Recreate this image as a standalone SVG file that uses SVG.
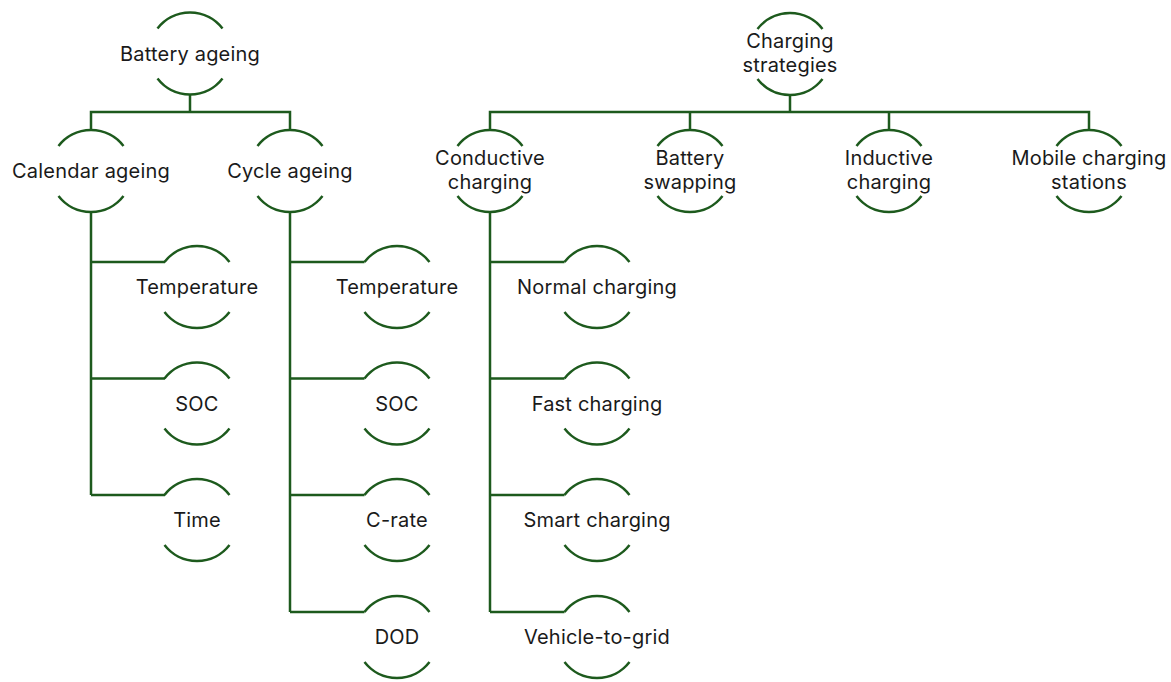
<svg xmlns="http://www.w3.org/2000/svg" width="1171" height="682" viewBox="0 0 1171 682">
<style>
.arc{fill:none;stroke:#1d5a1d;stroke-width:2.5}
.con{fill:none;stroke:#1d5a1d;stroke-width:2.5;stroke-linejoin:miter}
.t{font-family:Inter,"Liberation Sans",sans-serif;font-size:20px;letter-spacing:0.2px;fill:#1a1a1a;text-anchor:middle}
</style>
<defs>
<path id="nd" class="arc" d="M-32.5,-25 A41,41 0 0 1 32.5,-25 M-32.5,25 A41,41 0 0 0 32.5,25"/>
</defs>
<rect width="1171" height="682" fill="#ffffff"/>
<g id="connectors" class="con">
<path d="M190,94.5 V112 M91,130 V112 H290 V130"/>
<path d="M91,212 V495 M91,262 H165 M91,378.5 H165 M91,495 H165"/>
<path d="M290,212 V612 M290,262 H364.5 M290,378.5 H364.5 M290,495 H364.5 M290,612 H364.5"/>
<path d="M790,95 V112 M490,130 V112 H1089 V130 M690,112 V130 M889,112 V130"/>
<path d="M490,212 V612 M490,262 H564.5 M490,378.5 H564.5 M490,495 H564.5 M490,612 H564.5"/>
</g>
<g id="battery-ageing" transform="translate(190,53.5)"><use href="#nd"/><text class="t" y="7">Battery ageing</text></g>
<g id="calendar-ageing" transform="translate(91,171)"><use href="#nd"/><text class="t" y="7">Calendar ageing</text></g>
<g id="cycle-ageing" transform="translate(290,171)"><use href="#nd"/><text class="t" y="7">Cycle ageing</text></g>
<g id="cal-temperature" transform="translate(197,287)"><use href="#nd"/><text class="t" y="7">Temperature</text></g>
<g id="cal-soc" transform="translate(197,403.5)"><use href="#nd"/><text class="t" y="7">SOC</text></g>
<g id="cal-time" transform="translate(197,520)"><use href="#nd"/><text class="t" y="7">Time</text></g>
<g id="cyc-temperature" transform="translate(397,287)"><use href="#nd"/><text class="t" y="7">Temperature</text></g>
<g id="cyc-soc" transform="translate(397,403.5)"><use href="#nd"/><text class="t" y="7">SOC</text></g>
<g id="cyc-crate" transform="translate(397,520)"><use href="#nd"/><text class="t" y="7">C-rate</text></g>
<g id="cyc-dod" transform="translate(397,637)"><use href="#nd"/><text class="t" y="7">DOD</text></g>
<g id="charging-strategies" transform="translate(790,54)"><use href="#nd"/><text class="t" y="-6.5">Charging</text><text class="t" y="18">strategies</text></g>
<g id="conductive-charging" transform="translate(490,171)"><use href="#nd"/><text class="t" y="-6.5">Conductive</text><text class="t" y="18">charging</text></g>
<g id="battery-swapping" transform="translate(690,171)"><use href="#nd"/><text class="t" y="-6.5">Battery</text><text class="t" y="18">swapping</text></g>
<g id="inductive-charging" transform="translate(889,171)"><use href="#nd"/><text class="t" y="-6.5">Inductive</text><text class="t" y="18">charging</text></g>
<g id="mobile-charging-stations" transform="translate(1089,171)"><use href="#nd"/><text class="t" y="-6.5">Mobile charging</text><text class="t" y="18">stations</text></g>
<g id="normal-charging" transform="translate(597,287)"><use href="#nd"/><text class="t" y="7">Normal charging</text></g>
<g id="fast-charging" transform="translate(597,403.5)"><use href="#nd"/><text class="t" y="7">Fast charging</text></g>
<g id="smart-charging" transform="translate(597,520)"><use href="#nd"/><text class="t" y="7">Smart charging</text></g>
<g id="vehicle-to-grid" transform="translate(597,637)"><use href="#nd"/><text class="t" y="7">Vehicle-to-grid</text></g>
</svg>
